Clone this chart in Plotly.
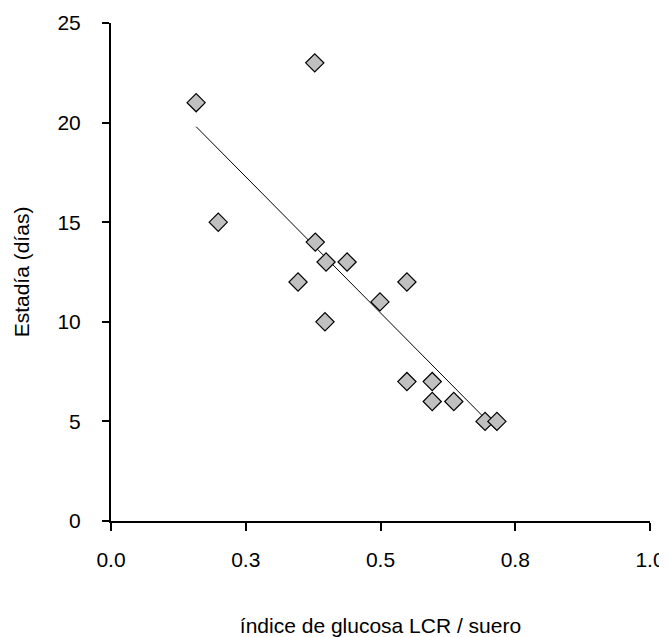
import numpy as np
import plotly.graph_objects as go

# Data
indice = [0.158, 0.378, 0.199, 0.379, 0.399, 0.438, 0.347, 0.549,
          0.397, 0.499, 0.549, 0.596, 0.596, 0.636, 0.694, 0.716]
estadia = [21, 23, 15, 14, 13, 13, 12, 12, 10, 11, 7, 7, 6, 6, 5, 5]

x_tickvals = [0.0, 0.25, 0.5, 0.75, 1.0]
x_ticktext = ["0.0", "0.3", "0.5", "0.8", "1.0"]
y_tickvals = [0, 5, 10, 15, 20, 25]

# linear trend line
slope, intercept = np.polyfit(indice, estadia, 1)
xl = np.array([min(indice), max(indice)])
yl = slope * xl + intercept

font = dict(family="Liberation Sans, Arial, sans-serif", size=21, color="black")

fig = go.Figure()
fig.add_trace(go.Scatter(x=xl, y=yl, mode="lines",
                         line=dict(color="black", width=1), hoverinfo="skip",
                         showlegend=False))
fig.add_trace(go.Scatter(x=indice, y=estadia, mode="markers",
                         marker=dict(symbol="diamond", size=14, color="#c0c0c0",
                                     line=dict(color="black", width=1.2)),
                         showlegend=False))

# page body has an 8px margin, so the figure is offset by (8, 8)
fig.update_layout(
    width=659, height=629,
    margin=dict(l=103, r=17, t=15, b=116, autoexpand=False),
    paper_bgcolor="white", plot_bgcolor="white",
    font=font,
    xaxis=dict(range=[0, 1], tickvals=x_tickvals, ticktext=x_ticktext,
               showgrid=False, zeroline=False, showline=True, linecolor="black",
               linewidth=2, ticks="outside", ticklen=8, tickwidth=2,
               tickcolor="black", ticklabelstandoff=11, automargin=False,
               title=dict(text="índice de glucosa LCR / suero", standoff=48,
                          font=font)),
    yaxis=dict(range=[0, 25], tickvals=y_tickvals,
               showgrid=False, zeroline=False, showline=True, linecolor="black",
               linewidth=2, ticks="outside", ticklen=7, tickwidth=2,
               tickcolor="black", ticklabelstandoff=17, automargin=False,
               title=dict(text="Estadía (días)", standoff=22, font=font)),
)

fig.write_html("out.html")
